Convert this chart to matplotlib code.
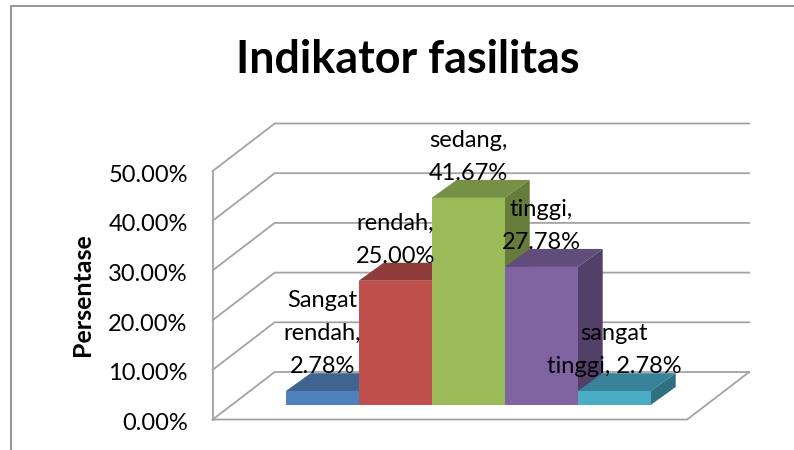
# -*- coding: utf-8 -*-
import matplotlib
matplotlib.use("Agg")
import matplotlib.pyplot as plt
from matplotlib.lines import Line2D
from matplotlib.transforms import ScaledTranslation

plt.rcParams['font.family'] = ['Lato', 'DejaVu Sans']

W, H = 794, 450

labels = ['Sangat\nrendah,\n2.78%', 'rendah,\n25.00%', 'sedang,\n41.67%', 'tinggi,\n27.78%', 'sangat\ntinggi, 2.78%']
values = [2.78, 25.00, 41.67, 27.78, 2.78]
ticks = [0, 10, 20, 30, 40, 50]
tick_labels = ['0.00%', '10.00%', '20.00%', '30.00%', '40.00%', '50.00%']

front_colors = ['#4F81BD', '#C0504D', '#9BBB59', '#8064A2', '#4BACC6']
top_colors = ['#3F648F', '#8F3C3A', '#769045', '#614C7C', '#39839A']
side_colors = ['#345375', '#7A3331', '#657C3B', '#524069', '#2F7082']

# scale: one bar is 73 px wide, 1% is 4.97 px high
px_x = 73.0
px_y = 4.97
bar_dx = 25 / px_x
bar_dy = 18 / px_y
wall_dx = 62 / px_x
wall_dy = 47.5 / px_y
front_shift = 14.5 / px_y
x_left = -1.5
x_right = 5.0
grid_color = '#A3A3A3'

fig = plt.figure(figsize=(W / 100, H / 100), dpi=100)
ax = fig.add_axes([212.7 / W, 0, (W - 212.7) / W, 1])
ax.set_xlim(x_left, x_left + (W - 212.7) / px_x)
ax.set_ylim(-45 / px_y, 405 / px_y)
for s in ax.spines.values():
    s.set_visible(False)
ax.set_xticks([])

# axis labels sit on the front edge of the wall
ax.set_yticks([t - front_shift for t in ticks])
ax.set_yticklabels(tick_labels, fontsize=17)
ax.tick_params(axis='y', length=0, pad=18, labelcolor='black')
for lbl in ax.get_yticklabels():
    lbl.set_transform(lbl.get_transform() + ScaledTranslation(0, -2 / 100, fig.dpi_scale_trans))

# walls and gridlines
for t in ticks:
    y0 = t - front_shift
    ax.plot([x_left, x_left + wall_dx, x_right + wall_dx], [y0, y0 + wall_dy, y0 + wall_dy],
            color=grid_color, lw=1.3, clip_on=False, zorder=1, solid_joinstyle='miter')
ax.plot([x_left, x_left], [ticks[0] - front_shift, ticks[-1] - front_shift], color=grid_color, lw=1.3, zorder=1, clip_on=False)
ax.plot([x_left, x_right, x_right + wall_dx], [-front_shift, -front_shift, -front_shift + wall_dy],
        color=grid_color, lw=1.3, zorder=1, clip_on=False)

# bars, left to right so the next front face covers the side face
for i, v in enumerate(values):
    x0, x1 = i - 0.5, i + 0.5
    z = 2 + i
    ax.fill([x0, x1, x1 + bar_dx, x0 + bar_dx], [v, v, v + bar_dy, v + bar_dy], color=top_colors[i], lw=0, zorder=z)
    ax.fill([x1, x1 + bar_dx, x1 + bar_dx, x1], [0, bar_dy, v + bar_dy, v], color=side_colors[i], lw=0, zorder=z)
    ax.bar(i, v, width=1.0, color=front_colors[i], lw=0, zorder=z + 0.5)

for i, v in enumerate(values):
    ax.annotate(labels[i], (i, v), xytext=(0, 14), textcoords='offset pixels', ha='center', va='bottom',
                fontsize=17, linespacing=1.7, color='black', zorder=20)

fig.text(83 / W, 1 - 295 / H, 'Persentase', rotation=90, ha='center', va='center', fontsize=18, fontweight='bold')
fig.text(408 / W, 1 - 60 / H, 'Indikator fasilitas', ha='center', va='center', fontsize=32.3, fontweight='bold')

# chart frame, cut off by the picture edge
fig.add_artist(Line2D([10.5 / W, 10.5 / W, 1], [0, 1 - 5.5 / H, 1 - 5.5 / H], color='#8C8C8C', lw=1.3))

fig.savefig('out.png', dpi=100)
